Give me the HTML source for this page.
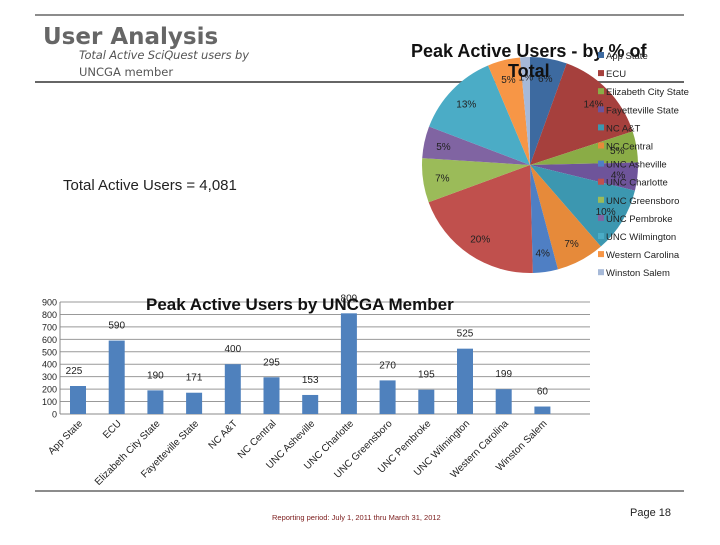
<!DOCTYPE html>
<html><head><meta charset="utf-8"><style>
body{margin:0;background:#fff;}
svg text{font-family:"Liberation Sans",Arial,sans-serif;}
</style></head><body>
<svg id="s" width="720" height="540" viewBox="0 0 720 540" xmlns="http://www.w3.org/2000/svg">
<line x1="35" y1="15" x2="684" y2="15" stroke="#666" stroke-width="1.5"/>
<line x1="35" y1="82" x2="684" y2="82" stroke="#666" stroke-width="2"/>
<text x="43" y="44" font-size="23" font-weight="bold" fill="#666" style="font-family:'DejaVu Sans',sans-serif">User Analysis</text>
<text x="79" y="59" font-size="11.5" font-style="italic" fill="#555" style="font-family:'DejaVu Sans',sans-serif" textLength="170">Total Active SciQuest users by</text>
<text x="79" y="76" font-size="11.5" fill="#555" style="font-family:'DejaVu Sans',sans-serif">UNCGA member</text>
<text x="63" y="190" font-size="15" fill="#222">Total Active Users = 4,081</text>
<g id="pie"></g>
<text x="411" y="57" font-size="18" font-weight="bold" fill="#111">Peak Active Users - by % of</text>
<text x="508" y="77" font-size="18" font-weight="bold" fill="#111">Total</text>
<g id="legend"></g>
<g id="bar"></g>
<text x="146" y="310" font-size="17" font-weight="bold" fill="#111">Peak Active Users by UNCGA Member</text>
<line x1="35" y1="491" x2="684" y2="491" stroke="#666" stroke-width="1.5"/>
<text x="272" y="520" font-size="7.5" fill="#7a1a1a">Reporting period: July 1, 2011 thru March 31, 2012</text>
<text x="630" y="516" font-size="11" fill="#222">Page 18</text>
</svg>
<script>
const categories=["App State","ECU","Elizabeth City State","Fayetteville State","NC A&T","NC Central","UNC Asheville","UNC Charlotte","UNC Greensboro","UNC Pembroke","UNC Wilmington","Western Carolina","Winston Salem"];
const users=[225,590,190,171,400,295,153,809,270,195,525,199,60];
const yTicks=[0,100,200,300,400,500,600,700,800,900];
const pieColors=["#3d6aa0","#a6403d","#8aac46","#6e549a","#3c97b0","#e68a3a","#4f7fc4","#c0504d","#9bbb59","#8064a2","#4bacc6","#f79646","#a6b9d8"];
const NS="http://www.w3.org/2000/svg";
function mk(t,a,p){const e=document.createElementNS(NS,t);for(const k in a)e.setAttribute(k,a[k]);p.appendChild(e);return e;}
const bar=document.getElementById('bar');
const x0=60,x1=590,y0=414,yTop=302;
function yS(v){return y0-(v/900)*(y0-yTop);}
function xC(i){return 78+i*38.7;}
yTicks.forEach(t=>{
  const l=mk('line',{x1:x0,x2:x1,y1:yS(t),y2:yS(t),stroke:t===0?'#888':'#999','stroke-width':1},bar);
  
  
  const tx=mk('text',{x:57,y:yS(t)+3.5,'font-size':9,'text-anchor':'end',fill:'#222'},bar);tx.textContent=t;
  
  
});
const ax=mk('line',{x1:x0,x2:x0,y1:yTop,y2:y0,stroke:'#888'},bar);


categories.forEach((c,i)=>{
  const cx=xC(i);
  const r=mk('rect',{x:cx-8,y:yS(users[i]),width:16,height:y0-yS(users[i]),fill:'#4f81bd'},bar);
  
  
  const v=mk('text',{x:cx+(i===0?-4:0),y:yS(users[i])-12,'font-size':10,'text-anchor':'middle',fill:'#222'},bar);
  v.textContent=users[i];
  
  
  const t=mk('text',{x:cx+5,y:y0+10,'font-size':10,'text-anchor':'end',fill:'#222',transform:`rotate(-45 ${cx+5} ${y0+10})`},bar);
  t.textContent=c;
  
  
});
const pie=document.getElementById('pie');
const total=users.reduce((a,b)=>a+b,0);
const pcx=530,pcy=165,pr=108;
let a=-Math.PI/2;
users.forEach((u,i)=>{
  const da=u/total*2*Math.PI,a2=a+da;
  const p=`M${pcx},${pcy}L${pcx+pr*Math.cos(a)},${pcy+pr*Math.sin(a)}A${pr},${pr} 0 ${da>Math.PI?1:0} 1 ${pcx+pr*Math.cos(a2)},${pcy+pr*Math.sin(a2)}Z`;
  const s=mk('path',{d:p,fill:pieColors[i]},pie);
  
  
  const m=(a+a2)/2;
  const lt=mk('text',{x:pcx+pr*0.82*Math.cos(m),y:pcy+pr*0.82*Math.sin(m)+4,'font-size':10,'text-anchor':'middle',fill:'#222'},pie);
  lt.textContent=Math.round(u/total*100)+'%';
  
  
  a=a2;
});
const lg=document.getElementById('legend');
categories.forEach((c,i)=>{
  const y=57+i*18.1;
  const r=mk('rect',{x:598,y:y-5,width:6,height:6,fill:pieColors[i]},lg);
  
  
  const t=mk('text',{x:606,y:y+2,'font-size':9.5,fill:'#222'},lg);t.textContent=c;
  
  
});
</script>
</body></html>
